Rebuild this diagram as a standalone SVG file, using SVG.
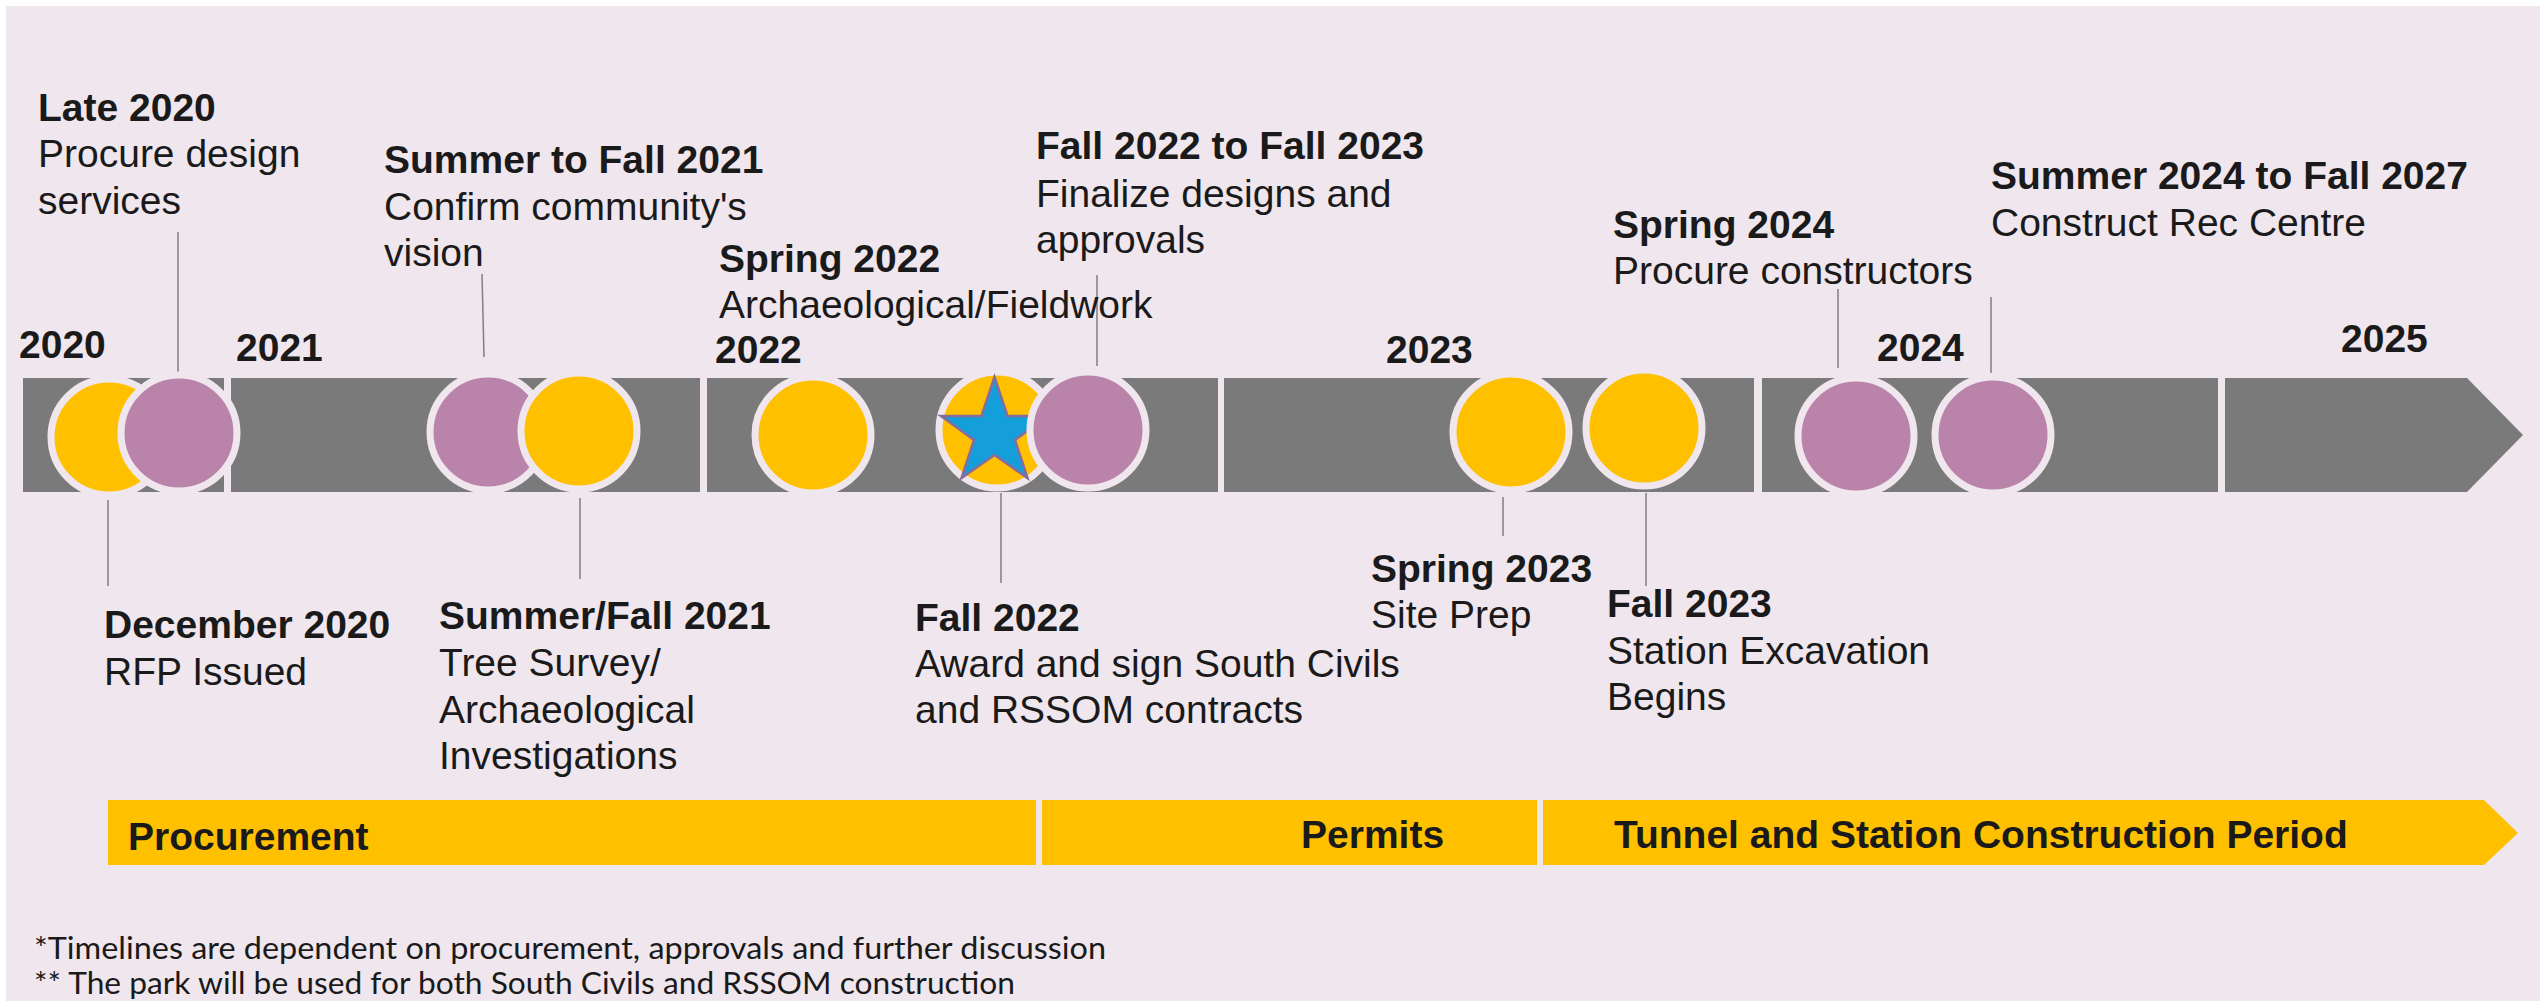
<svg xmlns="http://www.w3.org/2000/svg" width="2540" height="1001" viewBox="0 0 2540 1001">
<style>
.t{font-family:"Liberation Sans",Arial,sans-serif;font-size:39px;fill:#1a1a1a}
.b{font-weight:bold}
.yr{font-family:"Liberation Sans",Arial,sans-serif;font-size:39px;font-weight:bold;fill:#1a1a1a}
.bar{fill:#7a7a7a}
.cy{fill:#ffc000;stroke:#f0e6ee;stroke-width:7}
.cp{fill:#ba83aa;stroke:#f0e6ee;stroke-width:7}
.lead{stroke:#7f7f7f;stroke-width:1.5;fill:none}
.ph{fill:#ffc000}
.fn{font-family:Lato,"Liberation Sans",sans-serif;font-size:30px;fill:#1a1a1a}
</style>
<rect x="0" y="0" width="2540" height="1001" fill="#ffffff"/>
<rect x="6" y="6" width="2534" height="995" fill="#f0e6ee"/>

<g id="timeline-bar">
<rect class="bar" x="23" y="378" width="201" height="114"/>
<rect class="bar" x="231" y="378" width="469" height="114"/>
<rect class="bar" x="707" y="378" width="511" height="114"/>
<rect class="bar" x="1224" y="378" width="530" height="114"/>
<rect class="bar" x="1762" y="378" width="456" height="114"/>
<polygon class="bar" points="2225,378 2467,378 2523,435 2467,492 2225,492"/>
</g>

<g id="years">
<text class="yr" x="19" y="358">2020</text>
<text class="yr" x="236" y="361">2021</text>
<text class="yr" x="715" y="363">2022</text>
<text class="yr" x="1386" y="363">2023</text>
<text class="yr" x="1877" y="361">2024</text>
<text class="yr" x="2341" y="352">2025</text>
</g>

<g id="connectors">
<line class="lead" x1="178" y1="232" x2="178" y2="378"/>
<line class="lead" x1="482" y1="274" x2="484" y2="357"/>
<line class="lead" x1="1097" y1="275" x2="1097" y2="366"/>
<line class="lead" x1="1838" y1="289" x2="1838" y2="368"/>
<line class="lead" x1="1991" y1="297" x2="1991" y2="373"/>
<line class="lead" x1="108" y1="500" x2="108" y2="586"/>
<line class="lead" x1="580" y1="498" x2="580" y2="579"/>
<line class="lead" x1="1001" y1="493" x2="1001" y2="583"/>
<line class="lead" x1="1503" y1="497" x2="1503" y2="536"/>
<line class="lead" x1="1646" y1="493" x2="1646" y2="586"/>
</g>

<g id="m-dec2020">
<circle class="cy" cx="109" cy="437" r="58"/>
<text class="t b" x="104" y="638">December 2020</text>
<text class="t" x="104" y="685">RFP Issued</text>
</g>
<g id="m-late2020">
<circle class="cp" cx="179" cy="433" r="58"/>
<text class="t b" x="38" y="121">Late 2020</text>
<text class="t" x="38" y="167">Procure design</text>
<text class="t" x="38" y="214">services</text>
</g>
<g id="m-summer-fall-2021">
<circle class="cp" cx="488" cy="432" r="58"/>
<text class="t b" x="384" y="173">Summer to Fall 2021</text>
<text class="t" x="384" y="220">Confirm community's</text>
<text class="t" x="384" y="266">vision</text>
</g>
<g id="m-summerfall2021">
<circle class="cy" cx="579" cy="431" r="58"/>
<text class="t b" x="439" y="629">Summer/Fall 2021</text>
<text class="t" x="439" y="676">Tree Survey/</text>
<text class="t" x="439" y="723">Archaeological</text>
<text class="t" x="439" y="769">Investigations</text>
</g>
<g id="m-spring2022">
<circle class="cy" cx="813" cy="435" r="58"/>
<text class="t b" x="719" y="272">Spring 2022</text>
<text class="t" x="719" y="318">Archaeological/Fieldwork</text>
</g>
<g id="m-fall2022">
<circle class="cy" cx="997" cy="430" r="58"/>
<polygon points="994.5,377 1007.5,416 1048,416 1015,440 1027.5,478 994.5,455 961.5,478 974,440 941,416 981.5,416" fill="#149fda" stroke="#8a6a9a" stroke-width="2.5" stroke-linejoin="miter"/>
<text class="t b" x="915" y="631">Fall 2022</text>
<text class="t" x="915" y="677">Award and sign South Civils</text>
<text class="t" x="915" y="723">and RSSOM contracts</text>
</g>
<g id="m-fall2022-fall2023">
<circle class="cp" cx="1088" cy="430" r="58"/>
<text class="t b" x="1036" y="159">Fall 2022 to Fall 2023</text>
<text class="t" x="1036" y="207">Finalize designs and</text>
<text class="t" x="1036" y="253">approvals</text>
</g>
<g id="m-spring2023">
<circle class="cy" cx="1511" cy="432" r="58"/>
<text class="t b" x="1371" y="582">Spring 2023</text>
<text class="t" x="1371" y="628">Site Prep</text>
</g>
<g id="m-fall2023">
<circle class="cy" cx="1644" cy="428" r="58"/>
<text class="t b" x="1607" y="617">Fall 2023</text>
<text class="t" x="1607" y="664">Station Excavation</text>
<text class="t" x="1607" y="710">Begins</text>
</g>
<g id="m-spring2024">
<circle class="cp" cx="1856" cy="436" r="58"/>
<text class="t b" x="1613" y="238">Spring 2024</text>
<text class="t" x="1613" y="284">Procure constructors</text>
</g>
<g id="m-summer2024">
<circle class="cp" cx="1993" cy="435" r="58"/>
<text class="t b" x="1991" y="189">Summer 2024 to Fall 2027</text>
<text class="t" x="1991" y="236">Construct Rec Centre</text>
</g>

<g id="phase-procurement">
<rect class="ph" x="108" y="800" width="928" height="65"/>
<text class="t b" x="128" y="850">Procurement</text>
</g>
<g id="phase-permits">
<rect class="ph" x="1042" y="800" width="495" height="65"/>
<text class="t b" x="1301" y="848">Permits</text>
</g>
<g id="phase-construction">
<polygon class="ph" points="1543,800 2484,800 2518,833 2484,865 1543,865"/>
<text class="t b" x="1614" y="848">Tunnel and Station Construction Period</text>
</g>

<g id="footnotes">
<text class="fn" x="34" y="959" textLength="1072" lengthAdjust="spacingAndGlyphs">*Timelines are dependent on procurement, approvals and further discussion</text>
<text class="fn" x="34" y="994" textLength="981" lengthAdjust="spacingAndGlyphs">** The park will be used for both South Civils and RSSOM construction</text>
</g>
</svg>
